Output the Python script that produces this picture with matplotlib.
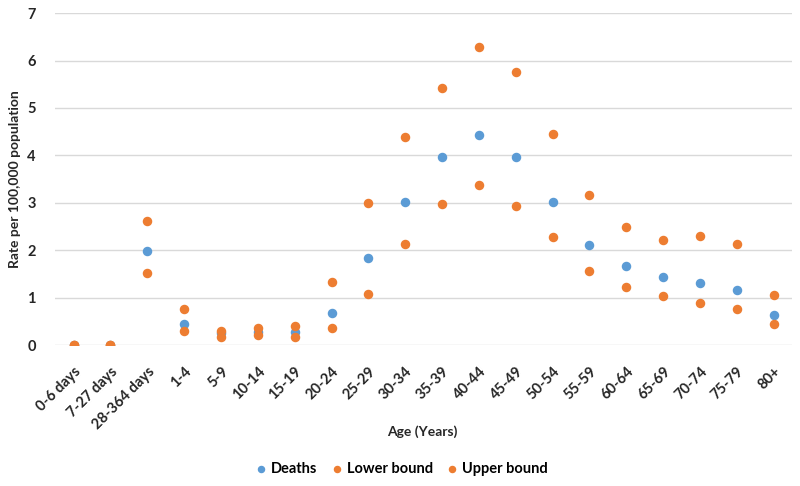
import matplotlib.pyplot as plt
import numpy as np

# Age groups and rates per 100,000 population
age_groups = ["0-6 days", "7-27 days", "28-364 days", "1-4", "5-9", "10-14", "15-19",
              "20-24", "25-29", "30-34", "35-39", "40-44", "45-49", "50-54", "55-59",
              "60-64", "65-69", "70-74", "75-79", "80+"]
deaths = [0.0, 0.0, 1.98, 0.45, 0.25, 0.28, 0.27, 0.68, 1.83, 3.02, 3.97, 4.43,
          3.96, 3.02, 2.10, 1.67, 1.43, 1.30, 1.16, 0.64]
lower_bound = [0.0, 0.0, 1.53, 0.30, 0.18, 0.22, 0.18, 0.35, 1.08, 2.14, 2.98, 3.37,
               2.94, 2.28, 1.56, 1.22, 1.03, 0.88, 0.76, 0.44]
upper_bound = [0.0, 0.0, 2.61, 0.77, 0.29, 0.37, 0.40, 1.32, 3.00, 4.39, 5.43, 6.28,
               5.76, 4.46, 3.17, 2.48, 2.21, 2.30, 2.13, 1.05]

blue = "#5B9BD5"
orange = "#ED7D31"
text_col = "#262626"
plt.rcParams["font.family"] = ["Lato", "DejaVu Sans"]

fig = plt.figure(figsize=(8, 4.86), dpi=100)
ax = fig.add_axes([0.069, 0.29, 0.921, 0.683])

x = np.arange(len(age_groups))
ax.scatter(x, deaths, s=34, color=blue, label="Deaths", zorder=3)
ax.scatter(x, lower_bound, s=34, color=orange, label="Lower bound", zorder=3)
ax.scatter(x, upper_bound, s=34, color=orange, label="Upper bound", zorder=3)

ax.set_xlim(-0.5, len(age_groups) - 0.5)
ax.set_ylim(0, 7)
ax.set_yticks(range(8))
ax.yaxis.grid(True, color="#d9d9d9", linewidth=1)
ax.set_axisbelow(True)
for s in ax.spines.values():
    s.set_visible(False)
ax.tick_params(length=0)

ax.set_xticks(x)
ax.set_xticklabels(age_groups, rotation=45, ha="right", rotation_mode="anchor",
                   fontsize=10.5, fontweight="bold", color=text_col)
for lbl in ax.get_yticklabels():
    lbl.set_fontsize(10.5)
    lbl.set_fontweight("bold")
    lbl.set_color(text_col)
ax.tick_params(axis="x", pad=14)
ax.tick_params(axis="y", pad=14)

ax.set_ylabel("Rate per 100,000 population", fontsize=10, fontweight="bold", color=text_col)
ax.yaxis.set_label_coords(-0.047, 0.5)
fig.text(0.528, 1 - 432 / 486, "Age (Years)", ha="center", va="center",
         fontsize=10, fontweight="bold", color=text_col)

fig.legend(loc="center", bbox_to_anchor=(0.502, 1 - 469 / 486), ncol=3, frameon=False,
           handlelength=0.8, handletextpad=0.3, columnspacing=0.9, markerscale=0.75,
           prop={"weight": "bold", "size": 10.5})

plt.savefig("out.png", dpi=100)
